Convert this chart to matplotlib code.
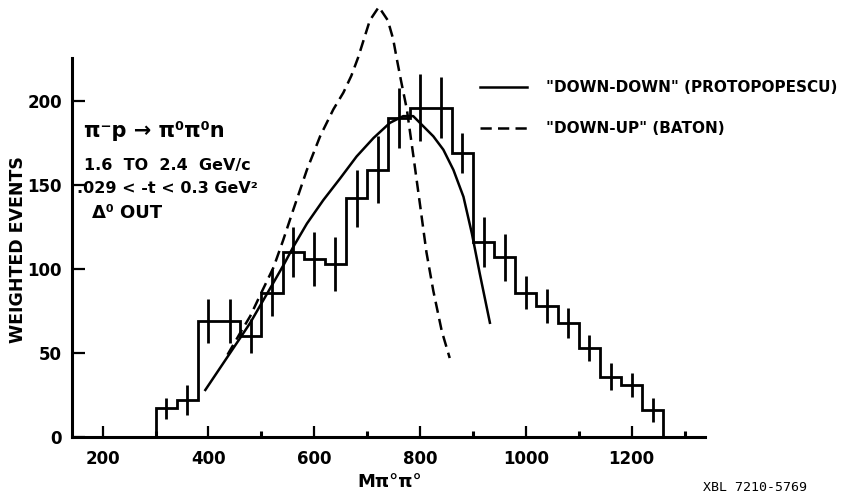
import numpy as np
import matplotlib
matplotlib.use("Agg")
import matplotlib.pyplot as plt

# ---------------- data ----------------
bin_edges = [300, 340, 380, 420, 460, 500, 540, 580, 620, 660, 700, 740, 780,
             820, 860, 900, 940, 980, 1020, 1060, 1100, 1140, 1180, 1220, 1260]
counts = [17, 22, 69, 69, 60, 86, 110, 106, 103, 142, 159, 190,
          196, 196, 169, 116, 107, 86, 78, 68, 53, 36, 31, 16]
errors = [6, 9, 13, 13, 10, 14, 15, 16, 16, 17, 20, 18,
          20, 18, 12, 15, 14, 10, 10, 9, 8, 8, 7, 7]

dd_mass = [394, 460, 479, 501, 523, 543, 560, 586, 617, 649, 680, 712, 743,
           768, 787, 806, 825, 844, 863, 882, 898, 913, 932]
dd_events = [28, 59, 68, 80, 92, 103, 113, 127, 141, 154, 167, 178, 187,
             191, 191, 185, 179, 171, 159, 143, 121, 97, 68]

du_mass = [436, 460, 479, 497, 523, 541, 560, 586, 611, 636, 655, 670, 683,
           694, 705, 722, 739, 749, 756, 764, 775, 787, 800, 812, 825, 841, 856]
du_events = [49, 62, 72, 84, 101, 117, 135, 159, 179, 195, 205, 215, 226,
             237, 248, 256, 248, 237, 225, 212, 195, 168, 138, 110, 87, 63, 47]

x_major = [200, 400, 600, 800, 1000, 1200]
x_minor = [300, 500, 700, 900, 1100, 1300]
y_ticks = [0, 50, 100, 150, 200]

label_dd = '"DOWN-DOWN" (PROTOPOPESCU)'
label_du = '"DOWN-UP" (BATON)'

# ---------------- figure ----------------
W, H = 843, 495
fig = plt.figure(figsize=(W / 100, H / 100), dpi=100)
ax = fig.add_axes([71.7 / W, (H - 437) / H, (705 - 71.7) / W, (437 - 58) / H])

FONT = "DejaVu Sans"
ink = "black"

edges = np.array(bin_edges, dtype=float)
centers = (edges[:-1] + edges[1:]) / 2
ax.stairs(counts, edges, color=ink, linewidth=2.0, baseline=0, fill=False)
ax.errorbar(centers, counts, yerr=errors, fmt="none", ecolor=ink,
            elinewidth=2.0, capsize=0)

ln_dd, = ax.plot(dd_mass, dd_events, color=ink, linewidth=1.8, clip_on=False)
ln_du, = ax.plot(du_mass, du_events, color=ink, linewidth=1.8, clip_on=False,
                 linestyle=(0, (4.5, 2.5)))

ax.set_xlim(141.4, 1338.6)
ax.set_ylim(0, 225.6)

for s in ("top", "right"):
    ax.spines[s].set_visible(False)
for s in ("left", "bottom"):
    ax.spines[s].set_linewidth(2.2)

ax.set_xticks(x_major)
ax.set_xticks(x_minor, minor=True)
ax.set_yticks(y_ticks)
ax.tick_params(axis="x", which="major", direction="in", length=8, width=1.6,
               pad=9, labelsize=12)
ax.tick_params(axis="x", which="minor", direction="in", length=4.5, width=2.2)
ax.tick_params(axis="y", which="major", direction="in", length=9, width=1.6,
               pad=7, labelsize=12)
for lab in ax.get_xticklabels() + ax.get_yticklabels():
    lab.set_fontweight("bold")
    lab.set_family(FONT)

# axis labels
fig.text(18 / W, 1 - 250 / H, "WEIGHTED EVENTS", rotation=90, ha="center",
         va="center", fontsize=12.5, fontweight="bold", family=FONT)
fig.text(390 / W, 1 - 482 / H, "Mπ°π°", ha="center", va="center",
         fontsize=13, fontweight="bold", family=FONT)
fig.text(703 / W, 1 - 481 / H, "XBL 7210-5769", ha="left", va="top",
         fontsize=9.5, family="DejaVu Sans Mono")

# reaction annotation
fig.text(84 / W, 1 - 137 / H, "π⁻p → π⁰π⁰n", ha="left", va="baseline",
         fontsize=15, fontweight="bold", family=FONT)
fig.text(84 / W, 1 - 170 / H, "1.6  TO  2.4  GeV/c", ha="left", va="baseline",
         fontsize=11.5, fontweight="bold", family=FONT)
fig.text(77 / W, 1 - 193 / H, ".029 < -t < 0.3 GeV²", ha="left", va="baseline",
         fontsize=11.5, fontweight="bold", family=FONT)
fig.text(92 / W, 1 - 218 / H, "Δ⁰ OUT", ha="left", va="baseline",
         fontsize=13, fontweight="bold", family=FONT)

# legend
leg = ax.legend([ln_dd, ln_du], [label_dd, label_du], loc="upper left",
                bbox_to_anchor=(480 / W, 1 - 80 / H),
                bbox_transform=fig.transFigure, frameon=False,
                prop={"family": FONT, "weight": "bold", "size": 11},
                handlelength=3.1, handletextpad=1.2, labelspacing=1.7,
                borderaxespad=0, borderpad=0)

fig.savefig("out.png", dpi=100)
